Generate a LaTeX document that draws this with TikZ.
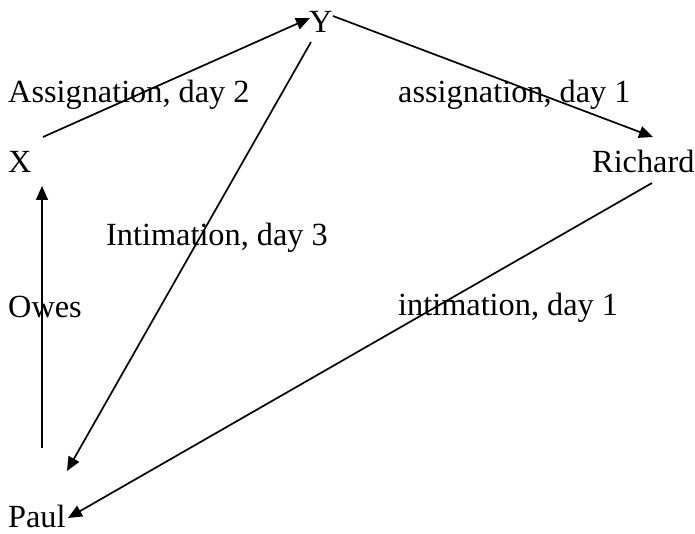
\documentclass[tikz,border=0pt]{standalone}
\usepackage{fontspec}
\setmainfont{Liberation Serif}
\usetikzlibrary{arrows.meta}
\begin{document}
\begin{tikzpicture}[x=1pt,y=-1pt,
  lbl/.style={inner sep=0pt,anchor=base west,font=\fontsize{32.3}{36}\selectfont},
  conn/.style={line width=1.7pt,-{Triangle[length=14pt,width=12pt]}}]
\useasboundingbox[fill=white] (0,0) rectangle (695,534);
% nodes
\node[lbl] (Y) at (309,33) {Y};
\node[lbl] (X) at (8,173) {X};
\node[lbl] (R) at (592,173) {Richard};
\node[lbl] (P) at (8,527) {Paul};
% labels
\node[lbl] (l1) at (8,103) {Assignation, day 2};
\node[lbl] (l2) at (398,103) {assignation, day 1};
\node[lbl] (l3) at (106,246) {Intimation, day 3};
\node[lbl] (l4) at (8,317) {Owes};
\node[lbl] (l5) at (398,315) {intimation, day 1};
% connector ends
\coordinate (xs) at (43,137);
\coordinate (yt) at (310,18);
\coordinate (ys) at (333,16);
\coordinate (rt) at (653,137);
\coordinate (rs) at (652,183);
\coordinate (pt) at (68,518);
\coordinate (yb) at (311,42);
\coordinate (pu) at (67,471);
\coordinate (ps) at (42,448);
\coordinate (xb) at (42,186);
\draw[conn] (xs) -- (yt);
\draw[conn] (ys) -- (rt);
\draw[conn] (rs) -- (pt);
\draw[conn] (yb) -- (pu);
\draw[conn] (ps) -- (xb);
\end{tikzpicture}
\end{document}
